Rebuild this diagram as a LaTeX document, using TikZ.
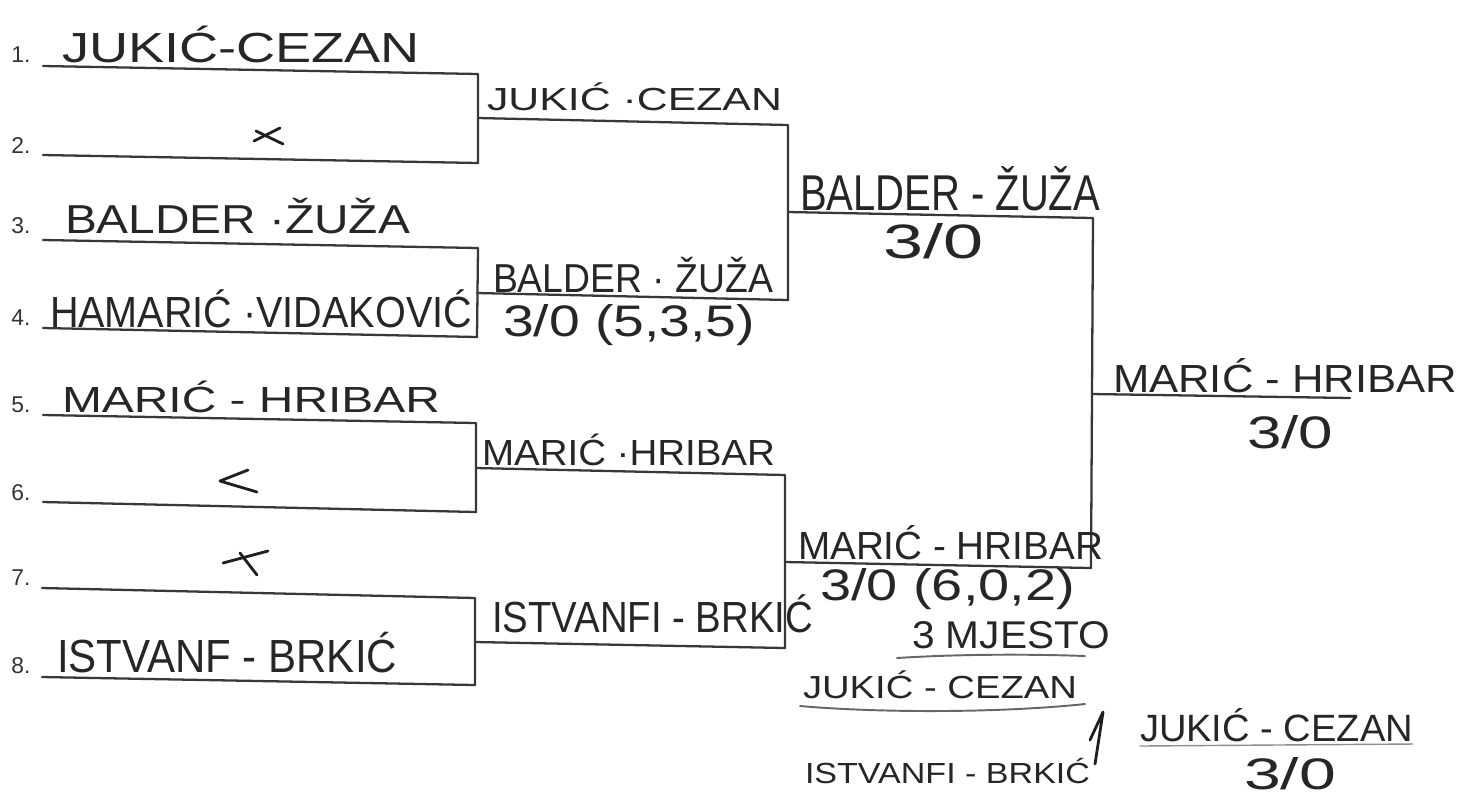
\documentclass[tikz,border=0pt]{standalone}
\usepackage{fontspec}
\usepackage{graphicx}
\newfontfamily\hwf{Liberation Sans}
\newfontfamily\numf{Liberation Sans}
\newlength\px \setlength\px{0.02cm}
\newcommand\hwn[3]{\resizebox{#1\px}{#2\px}{\hwf\vphantom{Ć}#3}}
\newcommand\hws[3]{\resizebox{#1\px}{#2\px}{\hwf #3}}
\tikzset{
 br/.style={line width=1.3pt, draw=black!78, line cap=round, line join=round},
 hw/.style={anchor=base west, inner sep=0pt, outer sep=0pt, text=black!85},
 num/.style={anchor=base west, inner sep=0pt, font=\numf\fontsize{13}{15}\selectfont, text=black!80},
 hmark/.style={line width=1.6pt, draw=black!88, line cap=round, line join=round},
 uline/.style={line width=1.1pt, draw=black!60, line cap=round}
}
\begin{document}
\begin{tikzpicture}[x=0.02cm,y=-0.02cm]
\useasboundingbox (0,0) rectangle (1466,796);
% round 1 lines
\coordinate (p1l) at (43,66); \coordinate (p1r) at (478,74);
\coordinate (p2l) at (43,155); \coordinate (p2r) at (478,163);
\coordinate (p3l) at (43,240); \coordinate (p3r) at (478,248);
\coordinate (p4l) at (43,328); \coordinate (p4r) at (477,337);
\coordinate (p5l) at (43,415); \coordinate (p5r) at (476,423);
\coordinate (p6l) at (43,502); \coordinate (p6r) at (476,512);
\coordinate (p7l) at (42,588); \coordinate (p7r) at (475,598);
\coordinate (p8l) at (42,677); \coordinate (p8r) at (475,685);
\draw[br] (p1l) -- (p1r) -- (p2r) -- (p2l);
\draw[br] (p3l) -- (p3r) -- (p4r) -- (p4l);
\draw[br] (p5l) -- (p5r) -- (p6r) -- (p6l);
\draw[br] (p7l) -- (p7r) -- (p8r) -- (p8l);
% round 2
\coordinate (q1l) at (478,118); \coordinate (q1r) at (788,125);
\coordinate (q2l) at (477,293); \coordinate (q2r) at (788,300);
\coordinate (q3l) at (476,468); \coordinate (q3r) at (785,475);
\coordinate (q4l) at (475,642); \coordinate (q4r) at (785,648);
\draw[br] (q1l) -- (q1r) -- (q2r) -- (q2l);
\draw[br] (q3l) -- (q3r) -- (q4r) -- (q4l);
% round 3
\coordinate (u1l) at (788,212); \coordinate (u1r) at (1093,218);
\coordinate (u2l) at (785,562); \coordinate (u2r) at (1091,568);
\draw[br] (u1l) -- (u1r) -- (u2r) -- (u2l);
% final
\coordinate (f1l) at (1092,394); \coordinate (f1r) at (1350,398);
\draw[br] (f1l) -- (f1r);
% numbers
\node[num] (k1) at (11,62) {1.};
\node[num] (k2) at (11,153) {2.};
\node[num] (k3) at (11,233) {3.};
\node[num] (k4) at (11,325) {4.};
\node[num] (k5) at (11,412) {5.};
\node[num] (k6) at (11,500) {6.};
\node[num] (k7) at (11,585) {7.};
\node[num] (k8) at (11,673) {8.};
% round 1 names
\node[hw] (n1) at (62,62) {\hwn{358}{36.5}{JUKIĆ-CEZAN}};
\node[hw] (n3) at (65,233) {\hwn{345}{35.3}{BALDER ·ŽUŽA}};
\node[hw] (n4) at (50,327) {\hwn{422}{37.8}{HAMARIĆ ·VIDAKOVIĆ}};
\node[hw] (n5) at (62,412) {\hwn{378}{31.5}{MARIĆ - HRIBAR}};
\node[hw] (n8) at (57,672) {\hwn{340}{40.3}{ISTVANF - BRKIĆ}};
% byes
\draw[hmark] (254,141) -- (280,128);
\draw[hmark] (256,131) -- (283,144);
\draw[hmark] (248,470) -- (220,481) -- (257,492);
\draw[hmark] (223,563) -- (268,551);
\draw[hmark] (240,553) -- (257,575);
% round 2 names
\node[hw] (r2a) at (487,110) {\hwn{295}{27.7}{JUKIĆ ·CEZAN}};
\node[hw] (r2b) at (493,292) {\hwn{280}{35.3}{BALDER · ŽUŽA}};
\node[hw] (s1) at (503,336) {\hws{252}{32}{3/0 (5,3,5)}};
\node[hw] (r2c) at (482,465) {\hwn{293}{31.5}{MARIĆ ·HRIBAR}};
\node[hw] (r2d) at (492,632) {\hwn{321}{37.8}{ISTVANFI - BRKIĆ}};
% round 3 names
\node[hw] (r3a) at (800,210) {\hwn{300}{44}{BALDER - ŽUŽA}};
\node[hw] (s2) at (883,258) {\hws{100}{35}{3/0}};
\node[hw] (r3b) at (798,559) {\hwn{305}{34}{MARIĆ - HRIBAR}};
\node[hw] (s3) at (820,600) {\hws{255}{32}{3/0 (6,0,2)}};
% final
\node[hw] (fin) at (1113,392) {\hwn{344}{34}{MARIĆ - HRIBAR}};
\node[hw] (s4) at (1247,448) {\hws{86}{33}{3/0}};
% third place
\node[hw] (t0) at (912,648) {\hws{198}{27}{3 MJESTO}};
\draw[uline] (897,658) .. controls (960,654) and (1030,654) .. (1085,656);
\node[hw] (t1) at (803,698) {\hwn{274}{27.7}{JUKIĆ - CEZAN}};
\draw[uline] (800,706) .. controls (880,713) and (1000,713) .. (1085,704);
\node[hw] (t2) at (805,783) {\hwn{285}{25.2}{ISTVANFI - BRKIĆ}};
\draw[hmark] (1090,740) -- (1103,712) -- (1095,764);
\node[hw] (t3) at (1140,741) {\hwn{273}{33}{JUKIĆ - CEZAN}};
\draw[uline, draw=black!45, line width=0.8pt] (1140,746) -- (1413,744);
\node[hw] (s5) at (1244,789) {\hws{92}{32}{3/0}};
\end{tikzpicture}
\end{document}
